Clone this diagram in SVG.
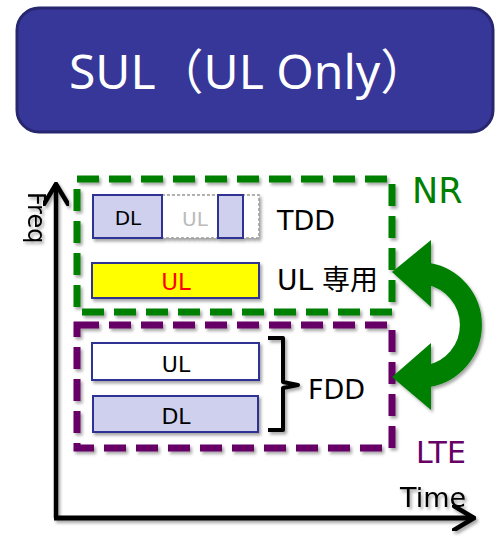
<svg xmlns="http://www.w3.org/2000/svg" width="500" height="541" viewBox="0 0 500 541">
  <defs>
    <filter id="shadow" x="-10%" y="-10%" width="130%" height="130%">
      <feDropShadow dx="2" dy="2.5" stdDeviation="1.6" flood-color="#000" flood-opacity="0.35"/>
    </filter>
    <marker id="chevron" viewBox="0 0 24 26" refX="22" refY="13" markerWidth="24" markerHeight="26" markerUnits="userSpaceOnUse" orient="auto">
      <path d="M2 1 L22 13 L2 25" fill="none" stroke="#000" stroke-width="4.5" stroke-linecap="round" stroke-linejoin="miter"/>
    </marker>
  </defs>
  <style>
    .lbl { font-family: "DejaVu Sans", "Noto Sans CJK JP", sans-serif; }
    .band { stroke: #2e3192; stroke-width: 2; }
    .dl { fill: #cfd0ed; }
    .ul { fill: #ffffff; }
    .nr { fill: none; stroke: #008000; stroke-width: 7; stroke-dasharray: 22 10; }
    .lte { fill: none; stroke: #660066; stroke-width: 7; stroke-dasharray: 22 10; }
  </style>

  <!-- title -->
  <g id="title">
    <rect x="17" y="8" width="476" height="124" rx="22" ry="22" fill="#363798" stroke="#27276f" stroke-width="3"/>
    <text x="69" y="89" font-family="'Noto Sans', 'Noto Sans CJK JP', sans-serif" font-size="48" fill="#ffffff">SUL（UL Only）</text>
  </g>

  <!-- axes -->
  <g id="axes" filter="url(#shadow)">
    <path d="M56 518 V184" fill="none" stroke="#000" stroke-width="4.5" marker-end="url(#chevron)"/>
    <path d="M54 518 H474" fill="none" stroke="#000" stroke-width="5" marker-end="url(#chevron)"/>
    <text x="28" y="192" class="lbl" font-size="24" fill="#000" transform="rotate(90 28 192)">Freq</text>
    <text x="400" y="507" class="lbl" font-size="27" fill="#000">Time</text>
  </g>

  <!-- NR carrier group -->
  <g id="nr">
    <path class="nr" d="M77 179 H392 V312 H77 Z" filter="url(#shadow)"/>
    <text x="412" y="203" class="lbl" font-size="35" fill="#008000">NR</text>
  </g>

  <!-- TDD band -->
  <g id="tdd">
    <g filter="url(#shadow)">
      <rect x="162" y="195" width="97" height="43" fill="#ffffff" stroke="#999999" stroke-width="1.5" stroke-dasharray="3 2"/>
      <rect class="band dl" x="93" y="195" width="69" height="43"/>
      <rect class="band dl" x="218" y="195" width="25" height="43"/>
    </g>
    <text x="128" y="225" class="lbl" font-size="20" fill="#000" text-anchor="middle">DL</text>
    <text x="195" y="226" class="lbl" font-size="20" fill="#bbbbbb" text-anchor="middle">UL</text>
    <text x="277" y="230" class="lbl" font-size="27" fill="#000">TDD</text>
  </g>

  <!-- supplementary uplink band -->
  <g id="sul">
    <rect class="band" x="92" y="263" width="167" height="35" fill="#ffff00" filter="url(#shadow)"/>
    <text x="176" y="290" class="lbl" font-size="23" fill="#ff0000" text-anchor="middle">UL</text>
    <text x="277" y="290" class="lbl" font-size="28" fill="#000">UL 専用</text>
  </g>

  <!-- LTE carrier group -->
  <g id="lte">
    <path class="lte" d="M77 325 H392 V448 H77 Z" filter="url(#shadow)"/>
    <text x="416" y="463" class="lbl" font-size="30" fill="#660066">LTE</text>
  </g>

  <!-- FDD bands -->
  <g id="fdd">
    <g filter="url(#shadow)">
      <rect class="band ul" x="92" y="343" width="167" height="37"/>
      <rect class="band dl" x="93" y="396" width="165" height="36"/>
      <path d="M268 338 H283 V382 L298 385 L283 388 V430 H268" fill="none" stroke="#000" stroke-width="4" stroke-linejoin="round"/>
    </g>
    <text x="176" y="372" class="lbl" font-size="22" fill="#000" text-anchor="middle">UL</text>
    <text x="176" y="424" class="lbl" font-size="22" fill="#000" text-anchor="middle">DL</text>
    <text x="308" y="399" class="lbl" font-size="27" fill="#000">FDD</text>
  </g>

  <!-- connectors -->
  <g id="connectors" filter="url(#shadow)">
    <path d="M428 273.8 A52 52 0 0 1 428 376.2" fill="none" stroke="#008000" stroke-width="22"/>
    <polygon points="392,272 431,240 431,307" fill="#008000"/>
    <polygon points="392,377 431,343 431,410" fill="#008000"/>
  </g>
</svg>
